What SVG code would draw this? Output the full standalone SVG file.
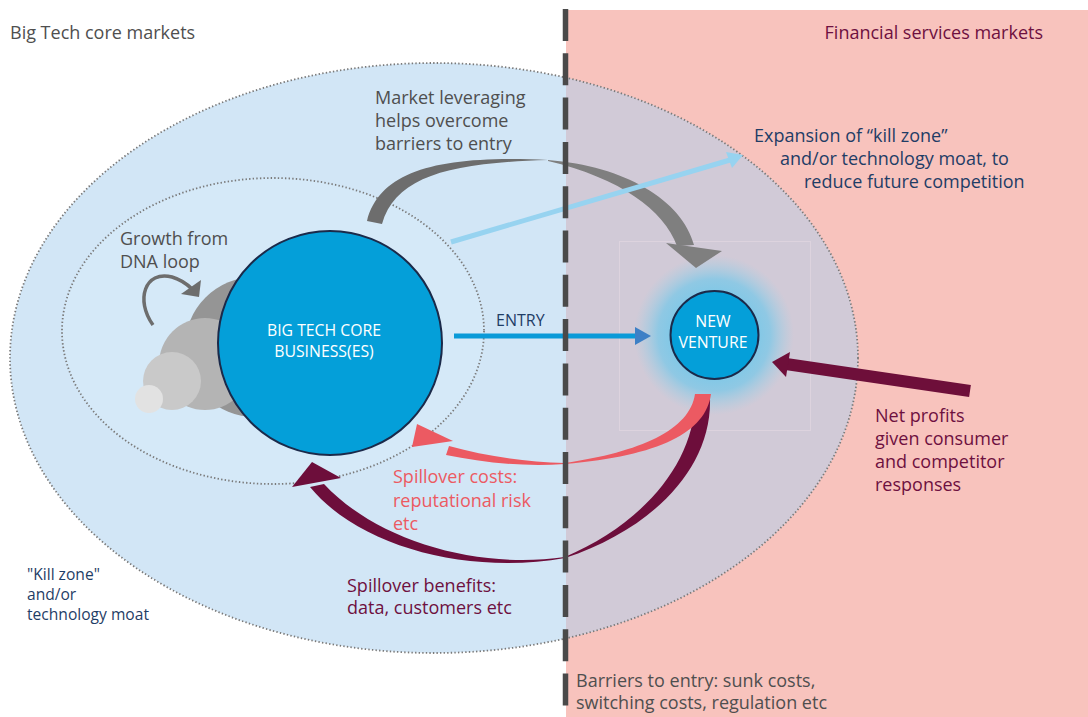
<svg xmlns="http://www.w3.org/2000/svg" width="1088" height="717" viewBox="0 0 1088 717">
<style>
text{font-family:"Open Sans","Noto Sans","Liberation Sans",sans-serif;font-size:18px}
.g{fill:#4f4f4f}
.navy{fill:#1f3d66}
.mar{fill:#6e1040}
.red{fill:#ec5a62}
.wt{fill:#ffffff;font-size:15.8px;text-anchor:middle}
.dot{fill:none;stroke:#7a7a7a;stroke-width:1.8;stroke-dasharray:1.4 2.2}
</style>
<defs>
<clipPath id="rightClip"><rect x="566" y="0" width="522" height="717"/></clipPath>
<radialGradient id="glow" cx="0.5" cy="0.5" r="0.5">
<stop offset="0.5" stop-color="#7fc8e7" stop-opacity="1"/>
<stop offset="0.7" stop-color="#7fc8e7" stop-opacity="0.8"/>
<stop offset="1" stop-color="#9fd0e6" stop-opacity="0"/>
</radialGradient>
</defs>
<rect width="1088" height="717" fill="#ffffff"/>
<g id="markets">
<rect x="566" y="10" width="522" height="707" fill="#f8c3bd"/>
<ellipse cx="434" cy="358" rx="424" ry="295" fill="#d2e6f6"/>
<ellipse cx="434" cy="358" rx="424" ry="295" fill="#d1cad7" clip-path="url(#rightClip)"/>
<ellipse cx="434" cy="358" rx="424" ry="295" class="dot"/>
<ellipse cx="273" cy="331" rx="211" ry="153" fill="#d5e9f8"/>
<ellipse cx="273" cy="331" rx="211" ry="153" class="dot"/>
<rect x="619.5" y="241.5" width="191" height="189" fill="none" stroke="#ddd3de" stroke-width="1"/>
<text x="10" y="39" class="g">Big Tech core markets</text>
<text x="1043" y="39" class="mar" style="text-anchor:end">Financial services markets</text>
</g>
<g id="growth">
<circle cx="255" cy="347" r="70" fill="#959595"/>
<circle cx="205" cy="364" r="46" fill="#b4b4b4"/>
<circle cx="172" cy="381" r="29" fill="#c9c9c9"/>
<circle cx="149" cy="399" r="14" fill="#e2e2e2"/>
<path d="M153 325 C135 300 145 270 172 277 C182 280 188 285 192 289" fill="none" stroke="#6d6d6d" stroke-width="3.5"/>
<polygon points="181,294 201,280 199,297" fill="#6d6d6d"/>
<text x="120" y="245" class="g">Growth from</text>
<text x="120" y="268" class="g">DNA loop</text>
</g>
<g id="core">
<circle cx="330" cy="343" r="112" fill="#049fd9" stroke="#1b2a4a" stroke-width="2"/>
<text x="324" y="336" class="wt">BIG TECH CORE</text>
<text x="324" y="357" class="wt">BUSINESS(ES)</text>
</g>
<g id="venture">
<circle cx="714" cy="335" r="80" fill="url(#glow)"/>
<circle cx="714.5" cy="335" r="44" fill="#049fd9" stroke="#1b2a4a" stroke-width="2"/>
<text x="713" y="327" class="wt">NEW</text>
<text x="713" y="348" class="wt">VENTURE</text>
</g>
<g id="connectors">
<path d="M367 221 C380 170 440 155 548 160 C450 163 396 176 382 224 Z" fill="#6d6d6d"/>
<path d="M548 160 C625 166 682 200 694 245 L677 246 C664 210 620 178 548 161 Z" fill="#7f7f7f"/>
<polygon points="666,243 722,251 696,268" fill="#7f7f7f"/>
<line x1="451" y1="242" x2="730" y2="160" stroke="#97d3f0" stroke-width="5"/>
<polygon points="743,155 726,152 732,168" fill="#97d3f0"/>
<line x1="454" y1="336" x2="637" y2="336" stroke="#0a9ad8" stroke-width="5"/>
<polygon points="651,336 635,327 635,345" fill="#3d80c6"/>
<text x="496" y="326" class="navy" style="font-size:16px">ENTRY</text>
<line x1="970" y1="391" x2="786" y2="364" stroke="#6e0f3a" stroke-width="12"/>
<polygon points="772,362 790,352 786,377" fill="#6e0f3a"/>
<path d="M710 398 C712 470 650 530 565 558 C470 575 360 548 310 487 L324 484 C376 540 476 570 565 557 C640 525 695 465 695 398 Z" fill="#6d0e3b"/>
<polygon points="312,462 292,487 341,478" fill="#6d0e3b"/>
<path d="M695 394 L711 394 C706 432 660 456 565 464 C520 467 480 462 446 455 L449 446 C485 456 525 462 565 463 C640 452 690 430 695 394 Z" fill="#ec5a62"/>
<polygon points="417,424 453,441 412,447" fill="#ec5a62"/>
</g>
<g id="divider">
<line x1="565.5" y1="9" x2="565.5" y2="717" stroke="#4a4a4a" stroke-width="5.5" stroke-dasharray="32 12.3"/>
</g>
<g id="labels">
<text x="375" y="104" class="g">Market leveraging</text>
<text x="375" y="127" class="g">helps overcome</text>
<text x="375" y="150" class="g">barriers to entry</text>
<text x="754" y="142" class="navy">Expansion of “kill zone”</text>
<text x="780" y="165" class="navy">and/or technology moat, to</text>
<text x="804" y="188" class="navy">reduce future competition</text>
<text x="875" y="422" class="mar">Net profits</text>
<text x="875" y="445" class="mar">given consumer</text>
<text x="875" y="468" class="mar">and competitor</text>
<text x="875" y="491" class="mar">responses</text>
<text x="393" y="483" class="red">Spillover costs:</text>
<text x="393" y="507" class="red">reputational risk</text>
<text x="393" y="530" class="red">etc</text>
<text x="347" y="592" class="mar">Spillover benefits:</text>
<text x="347" y="614" class="mar">data, customers etc</text>
<text x="27" y="580" class="navy" style="font-size:15.6px">"Kill zone"</text>
<text x="27" y="600" class="navy" style="font-size:15.6px">and/or</text>
<text x="27" y="620" class="navy" style="font-size:15.6px">technology moat</text>
<text x="576" y="687" class="g">Barriers to entry: sunk costs,</text>
<text x="576" y="709" class="g">switching costs, regulation etc</text>
</g>
</svg>
